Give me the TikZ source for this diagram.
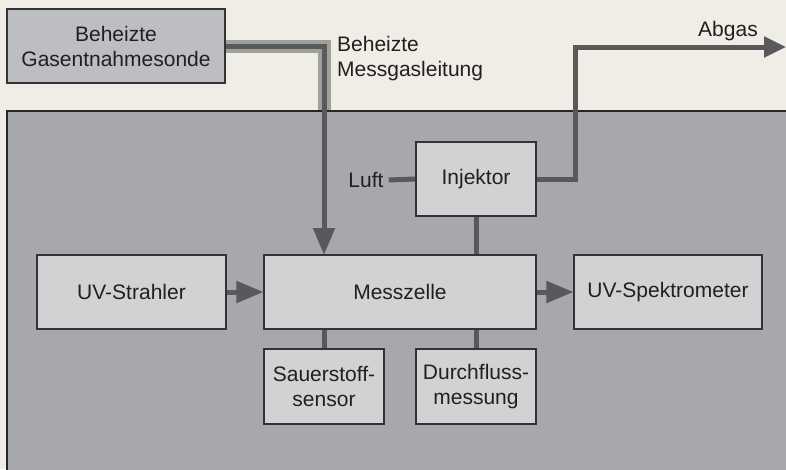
\documentclass[tikz,border=0pt]{standalone}
\usepackage{fontspec}
\setmainfont{Liberation Sans}
\usetikzlibrary{arrows.meta}
\definecolor{bg}{HTML}{F0EDE6}
\definecolor{panel}{HTML}{A7A8AC}
\definecolor{panelborder}{HTML}{262626}
\definecolor{nodefill}{HTML}{D1D2D4}
\definecolor{probefill}{HTML}{BDBEC2}
\definecolor{nodeborder}{HTML}{333333}
\definecolor{pipecol}{HTML}{58595B}
\definecolor{heatcol}{HTML}{A0A196}
\definecolor{txt}{HTML}{231F20}
\tikzset{
  blockbox/.style={draw=nodeborder, line width=1.1pt, fill=nodefill, align=center, inner sep=0pt,
    text=txt, font=\fontsize{21}{25}\selectfont},
  lbl/.style={inner sep=0pt, text=txt, font=\fontsize{21}{25}\selectfont},
  pipe/.style={draw=pipecol, line width=5pt, line join=miter},
  heat/.style={draw=heatcol, line width=13pt, line join=miter},
  bigtip/.style={-{Triangle[length=27pt,width=21pt]}},
  endtip/.style={-{Triangle[length=22pt,width=20pt]}}
}
\begin{document}
\begin{tikzpicture}[x=1pt,y=-1pt]
\clip (0,0) rectangle (786,469);
\fill[bg] (0,0) rectangle (786,469);

% nodes (positions)
\node[blockbox, fill=probefill, minimum width=218pt, minimum height=74pt] (probe) at (116,46) {Beheizte\\Gasentnahmesonde};
\coordinate (heatdown) at (324,111);

% heated line outer sleeve
\draw[heat] (probe.east) -| (heatdown);

% panel
\draw[line width=2pt, draw=panelborder, fill=panel] (7,111) rectangle (810,490);

\node[blockbox, minimum width=189pt, minimum height=74pt] (uv) at (131.5,292) {UV-Strahler};
\node[blockbox, minimum width=272pt, minimum height=74pt] (mess) at (400,292) {Messzelle};
\node[blockbox, minimum width=188pt, minimum height=74pt] (spek) at (668,292) {UV-Spektrometer};
\node[blockbox, minimum width=120pt, minimum height=75pt] (sauer) at (324,386.5) {Sauerstoff-\\sensor};
\node[blockbox, minimum width=120pt, minimum height=75pt] (durch) at (476,386.5) {Durchfluss-\\messung};
\node[blockbox, minimum width=120pt, minimum height=74pt] (inj) at (476,179) {Injektor};
\node[lbl] (luft) at (366,180) {Luft};
\node[lbl, align=left, anchor=west] (leitung) at (337,59) {Beheizte\\Messgasleitung};
\node[lbl] (abgas) at (728,31) {Abgas};
\coordinate (gasin) at (324,255);
\coordinate (abgasend) at (786,47);

% connectors
\draw[pipe, bigtip] (probe.east) -| (gasin);
\draw[pipe] ([xshift=5pt]luft.east) -- (inj.west);
\draw[pipe, endtip] (inj.east) -| (575,47) -- (abgasend);
\draw[pipe] (inj.south) -- (inj.south |- mess.north);
\draw[pipe, bigtip] (uv.east) -- (mess.west);
\draw[pipe, bigtip] (mess.east) -- (spek.west);
\draw[pipe] (sauer.north) -- (sauer.north |- mess.south);
\draw[pipe] (durch.north) -- (durch.north |- mess.south);

% redraw nodes on top
\node[blockbox, fill=probefill, minimum width=218pt, minimum height=74pt] at (probe) {Beheizte\\Gasentnahmesonde};
\node[blockbox, minimum width=189pt, minimum height=74pt] at (uv) {UV-Strahler};
\node[blockbox, minimum width=272pt, minimum height=74pt] at (mess) {Messzelle};
\node[blockbox, minimum width=188pt, minimum height=74pt] at (spek) {UV-Spektrometer};
\node[blockbox, minimum width=120pt, minimum height=75pt] at (sauer) {Sauerstoff-\\sensor};
\node[blockbox, minimum width=120pt, minimum height=75pt] at (durch) {Durchfluss-\\messung};
\node[blockbox, minimum width=120pt, minimum height=74pt] at (inj) {Injektor};
\end{tikzpicture}
\end{document}
